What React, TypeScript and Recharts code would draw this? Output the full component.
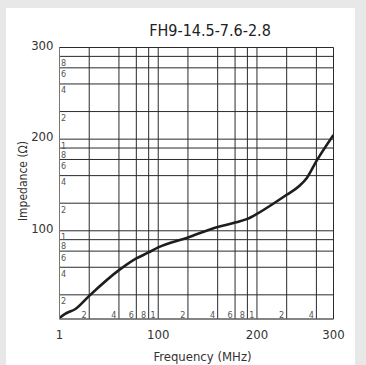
import React from "react";
import { LineChart, Line, XAxis, YAxis, CartesianGrid } from "recharts";

const FONT = "'DejaVu Sans Condensed', 'DejaVu Sans', sans-serif";
const STRETCH = "condensed";

// Curve readings (frequency in decade units of the drawn log axis, impedance likewise)
const freqValues = [1, 1.14, 1.45, 2, 4, 6, 8, 10, 20, 40, 60, 80, 100, 150, 200, 270, 320, 400, 596];
const impedanceValues = [1.12, 1.24, 1.4, 1.95, 3.72, 5.0, 5.8, 6.6, 8.45, 11, 12.3, 13.5, 15.3, 20.1, 24.7, 31, 37.7, 57.5, 111];

const majorXTicks = [1, 10, 100, 596];
const majorXLabels = ["1", "100", "200", "300"];
const minorXTicks = [2, 4, 6, 8, 10, 20, 40, 60, 80, 100, 200, 400];
const minorXLabels = ["2", "4", "6", "8", "1", "2", "4", "6", "8", "1", "2", "4"];

const majorYTicks = [10, 100, 1000];
const majorYLabels = ["100", "200", "300"];
const minorYTicks = [2, 4, 6, 8, 10, 20, 40, 60, 80, 100, 200, 400, 600, 800];
const minorYLabels = ["2", "4", "6", "8", "1", "2", "4", "6", "8", "1", "2", "4", "6", "8"];

const xDomain = [1, 596];
const yDomain = [1.09, 1000];

const title = "FH9-14.5-7.6-2.8";
const xTitle = "Frequency (MHz)";
const yTitle = "Impedance (Ω)";

const data = freqValues.map((f, i) => ({ f, z: impedanceValues[i] }));
const xTicks = Array.from(new Set([...majorXTicks, ...minorXTicks])).sort((a, b) => a - b);
const yTicks = Array.from(new Set([...majorYTicks, ...minorYTicks])).sort((a, b) => a - b);

const txtStyle: React.CSSProperties = { fontStretch: STRETCH as any };

const XTick = (props: any) => {
  const { x, y, payload } = props;
  const v = payload.value;
  const ma = majorXTicks.indexOf(v);
  const mi = minorXTicks.indexOf(v);
  return (
    <g>
      {ma >= 0 && (
        <text x={x} y={y + 20} textAnchor="middle" fontSize={13} fill="#333" fontFamily={FONT} style={txtStyle}>
          {majorXLabels[ma]}
        </text>
      )}
      {mi >= 0 && (
        <text x={x - 2.5} y={y - 1.5} textAnchor="end" fontSize={9} fill="#555" fontFamily={FONT} style={txtStyle}>
          {minorXLabels[mi]}
        </text>
      )}
    </g>
  );
};

const YTick = (props: any) => {
  const { x, y, payload } = props;
  const v = payload.value;
  const ma = majorYTicks.indexOf(v);
  const mi = minorYTicks.indexOf(v);
  return (
    <g>
      {ma >= 0 && (
        <text x={x - 6} y={y + 2} textAnchor="end" fontSize={13} fill="#333" fontFamily={FONT} style={txtStyle}>
          {majorYLabels[ma]}
        </text>
      )}
      {mi >= 0 && (
        <text x={x + 1.5} y={y + 9.5} textAnchor="start" fontSize={9} fill="#555" fontFamily={FONT} style={txtStyle}>
          {minorYLabels[mi]}
        </text>
      )}
    </g>
  );
};

export default function App() {
  return (
    <div style={{ position: "absolute", left: 0, top: 0, width: 366, height: 365, background: "#e8e8e8", overflow: "hidden" }}>
      <div style={{ position: "absolute", left: 6, top: 8, width: 349, height: 357, background: "#ffffff" }} />
      <div
        style={{
          position: "absolute",
          left: 0,
          top: 22,
          width: 420,
          textAlign: "center",
          fontFamily: FONT,
          fontStretch: STRETCH,
          fontSize: 16,
          color: "#222",
          lineHeight: "18px",
        }}
      >
        {title}
      </div>
      <div style={{ position: "absolute", left: 23, top: 181, width: 0, height: 0 }}>
        <div
          style={{
            position: "absolute",
            left: -60,
            top: -9,
            width: 120,
            textAlign: "center",
            transform: "rotate(-90deg)",
            fontFamily: FONT,
            fontStretch: STRETCH,
            fontSize: 12,
            color: "#333",
            lineHeight: "18px",
            whiteSpace: "nowrap",
          }}
        >
          {yTitle}
        </div>
      </div>
      <div style={{ position: "absolute", left: 0, top: 0 }}>
        <LineChart width={366} height={365} data={data} margin={{ top: 47.5, right: 32.5, bottom: 16, left: 29.5 }}>
          <CartesianGrid stroke="#2a2a2a" strokeWidth={1} />
          <XAxis
            dataKey="f"
            type="number"
            scale="log"
            domain={xDomain}
            allowDataOverflow
            ticks={xTicks}
            interval={0}
            tickSize={0}
            tickMargin={0}
            height={30}
            axisLine={{ stroke: "#777" }}
            tickLine={false}
            tick={<XTick />}
            label={{ value: xTitle, position: "insideBottom", offset: -12, fontSize: 13, fill: "#333", fontFamily: FONT, dx: 6, style: txtStyle }}
          />
          <YAxis
            dataKey="z"
            type="number"
            scale="log"
            domain={yDomain}
            allowDataOverflow
            ticks={yTicks}
            interval={0}
            tickSize={0}
            tickMargin={0}
            width={30}
            axisLine={{ stroke: "#777" }}
            tickLine={false}
            tick={<YTick />}
          />
          <Line
            type="monotone"
            dataKey="z"
            stroke="#1e1e1e"
            strokeWidth={2.6}
            dot={false}
            isAnimationActive={false}
          />
        </LineChart>
      </div>
    </div>
  );
}
